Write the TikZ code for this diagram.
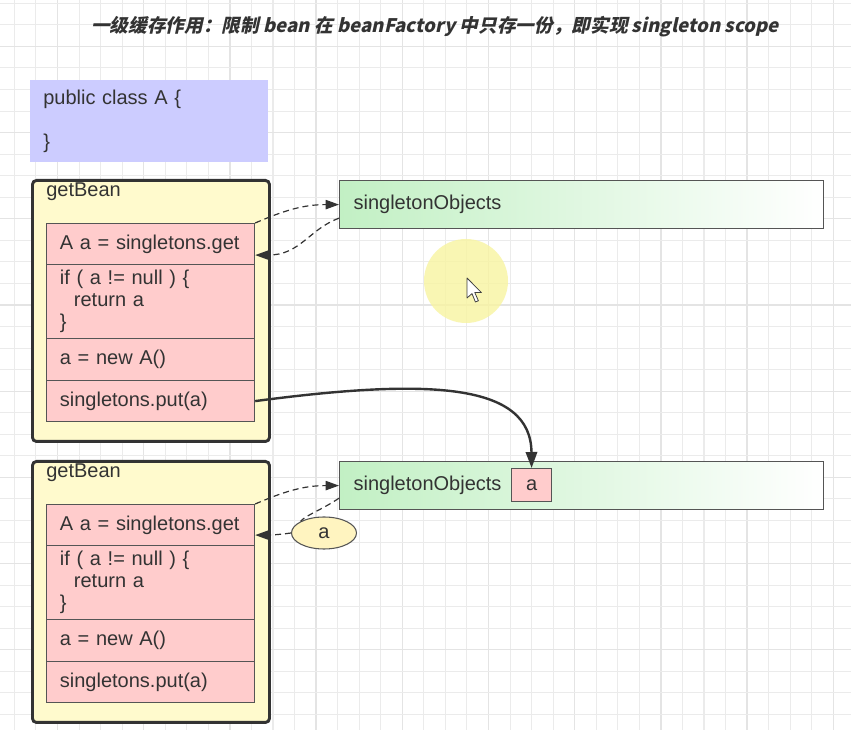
\documentclass[tikz,border=0pt]{standalone}
\usepackage{fontspec}
\setmainfont{Liberation Sans}
\newfontfamily\cjkt[FakeSlant=0.22]{Noto Sans CJK SC}
\usetikzlibrary{arrows.meta,calc,shapes.geometric}
\definecolor{txt}{HTML}{333333}
\definecolor{dark}{HTML}{333333}
\definecolor{boxline}{HTML}{555555}
\definecolor{yellowf}{HTML}{FFFACD}
\definecolor{pinkf}{HTML}{FFCCCC}
\definecolor{bluef}{HTML}{CCCCFF}
\definecolor{greenL}{HTML}{C2F0C4}
\definecolor{ellf}{HTML}{FFF4C0}
\definecolor{hlc}{HTML}{F8F4A0}
\definecolor{gminor}{HTML}{EBEBEB}
\definecolor{gmajor}{HTML}{E4E4E4}
\tikzset{
  gridminor/.style={draw=gminor, line width=0.8pt},
  gridmajor/.style={draw=gmajor, line width=1pt},
  outerbox/.style={draw=dark, line width=2.2pt, rounded corners=3pt, fill=yellowf,
    minimum width=177.75pt, minimum height=195.75pt, anchor=north west},
  coderow/.style={draw=boxline, line width=0.9pt, fill=pinkf, anchor=north west,
    minimum width=156pt, text width=136pt, inner xsep=10pt, align=left},
  greenbox/.style={draw=boxline, line width=0.9pt, left color=greenL, right color=white,
    anchor=north west, minimum width=363pt, minimum height=36pt,
    text width=342pt, inner xsep=10.5pt, align=left},
  dasharrow/.style={draw=dark, line width=0.9pt, dash pattern=on 4.5pt off 3pt,
    -{Triangle[length=10pt,width=7pt]}},
  solidarrow/.style={draw=dark, line width=1.8pt, -{Triangle[length=12pt,width=8.5pt]}},
}
\begin{document}
\begin{tikzpicture}[x=0.75pt,y=-0.75pt, font=\fontsize{15}{16.5}\selectfont, text=txt]
\useasboundingbox (0,0) rectangle (851,730);
\fill[white] (0,0) rectangle (851,730);
% background grid
\foreach \i in {0,...,39} {
  \pgfmathtruncatemacro{\m}{mod(\i,4)}
  \ifnum\m=2
    \draw[gridmajor] ({14.4+21.55*\i},0) -- ({14.4+21.55*\i},730);
  \else
    \draw[gridminor] ({14.4+21.55*\i},0) -- ({14.4+21.55*\i},730);
  \fi
}
\foreach \j in {0,...,34} {
  \pgfmathtruncatemacro{\m}{mod(\j,4)}
  \ifnum\m=2
    \draw[gridmajor] (0,{3.3+21.55*\j}) -- (851,{3.3+21.55*\j});
  \else
    \draw[gridminor] (0,{3.3+21.55*\j}) -- (851,{3.3+21.55*\j});
  \fi
}

% title
\node[font=\cjkt\bfseries\fontsize{14}{16}\selectfont, text=dark] (title) at (435,27)
  {一级缓存作用：限制 bean 在 beanFactory 中只存一份，即实现 singleton scope};

% class box
\node[fill=bluef, anchor=north west, minimum width=178.5pt, minimum height=61.5pt,
  text width=159pt, inner xsep=9.75pt, align=left] (cls) at (30,80)
  {public class A \{\\\mbox{}\\\}};

% highlight and cursor
\fill[hlc, opacity=0.8] (466,281) circle (31.5pt);
\filldraw[fill=white, draw=black!75, line width=0.6pt, line join=round]
  (467,278) -- ++(0,20) -- ++(5,-4.4) -- ++(3.4,8.4) -- ++(3,-1.2) -- ++(-3.6,-8.2) -- ++(6.6,0) -- cycle;

% first getBean
\node[outerbox] (gb1) at (31,179) {};
\node[anchor=west, inner sep=0pt] (gbl1) at (46,192) {getBean};
\node[coderow, minimum height=30.75pt] (r1a) at (46,223) {A a = singletons.get};
\node[coderow, minimum height=55.5pt] (r2a) at (46,264)
  {if ( a != null ) \{\\\hspace*{10.5pt}return a\\\}};
\node[coderow, minimum height=31.5pt] (r3a) at (46,338) {a = new A()};
\node[coderow, minimum height=30.75pt] (r4a) at (46,380) {singletons.put(a)};

% second getBean
\node[outerbox] (gb2) at (31,460) {};
\node[anchor=west, inner sep=0pt] (gbl2) at (46,473) {getBean};
\node[coderow, minimum height=30.75pt] (r1b) at (46,504) {A a = singletons.get};
\node[coderow, minimum height=55.5pt] (r2b) at (46,545)
  {if ( a != null ) \{\\\hspace*{10.5pt}return a\\\}};
\node[coderow, minimum height=31.5pt] (r3b) at (46,619) {a = new A()};
\node[coderow, minimum height=30.75pt] (r4b) at (46,661) {singletons.put(a)};

% singletonObjects boxes
\node[greenbox] (g1) at (339,180) {singletonObjects};
\node[greenbox] (g2) at (339,461) {singletonObjects};
\node[draw=boxline, line width=0.9pt, fill=pinkf, anchor=north west,
  minimum width=30pt, minimum height=24.75pt] (sa) at (511,468) {a};

% ellipse a
\node[ellipse, draw=boxline, line width=0.8pt, fill=ellf,
  minimum width=48.75pt, minimum height=24pt, inner sep=0pt] (ea) at (324,533) {a};

% dashed connectors, first
\draw[dasharrow] (r1a.north east) .. controls ($(r1a.north east)+(30,-13)$) and ($(g1.west)+(-35,0)$) .. (g1.west);
\draw[dasharrow] ($(g1.south west)+(0,-11)$) .. controls ($(g1.south west)+(-30,0)$) and ($(r1a.east)+(45,11)$) .. ($(r1a.east)+(0,11)$);

% dashed connectors, second
\draw[dasharrow] (r1b.north east) .. controls ($(r1b.north east)+(30,-13)$) and ($(g2.west)+(-35,0)$) .. (g2.west);
\draw[dash pattern=on 4.5pt off 3pt, draw=dark, line width=0.9pt]
  ($(g2.south west)+(0,-12)$) .. controls ($(g2.south west)+(-18,0)$) and ($(ea.north west)+(5,-6)$) .. (ea.north west);
\draw[dasharrow] (ea.west) .. controls ($(ea.west)+(-14,2)$) and ($(r1b.east)+(12,10)$) .. ($(r1b.east)+(0,10)$);

% solid put arrow
\draw[solidarrow] (r4a.east) .. controls (430,378) and (531,383) .. (sa.north);
\end{tikzpicture}
\end{document}
